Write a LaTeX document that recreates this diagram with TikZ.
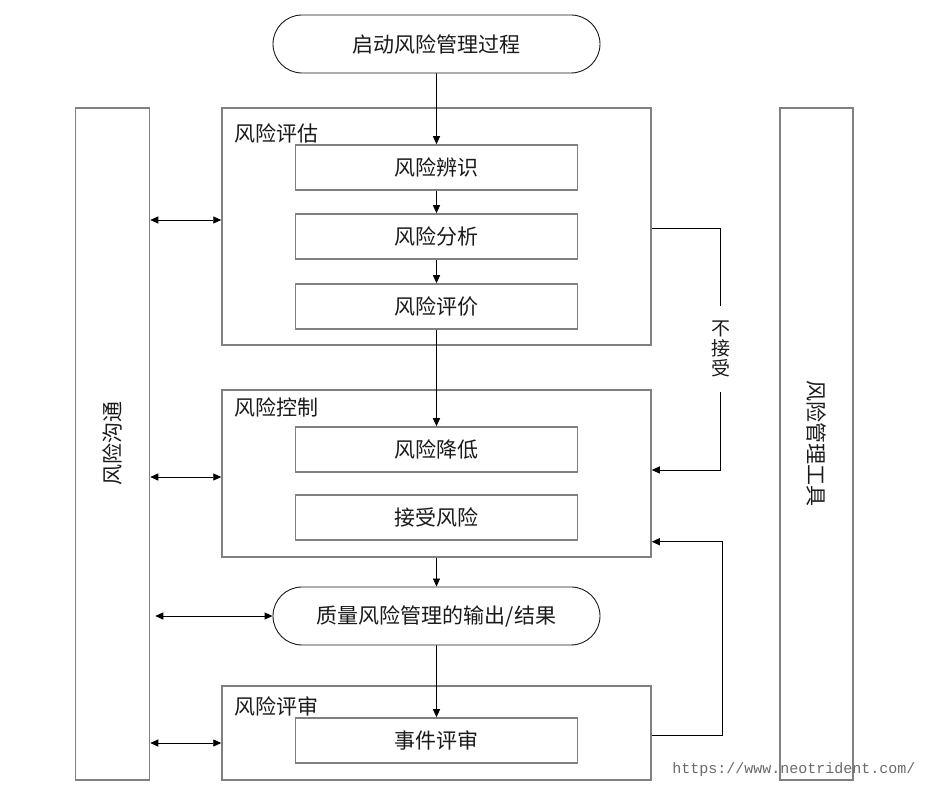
\documentclass[tikz,border=0pt]{standalone}
\usepackage{fontspec}
\setmainfont{Noto Sans CJK SC}
\setmonofont{Liberation Mono}
\usetikzlibrary{positioning,arrows.meta,shapes.misc,calc}
\definecolor{qrmGray}{HTML}{808080}
\definecolor{qrmInk}{HTML}{1A1A1A}
\definecolor{qrmWeb}{HTML}{6A6A6A}
\definecolor{qrmWhite}{HTML}{FFFFFF}
\newcommand{\qrmfont}{\fontsize{21}{24}\selectfont}
\tikzset{
  qrm-box/.style={
    draw=qrmGray, line width=1.5pt, fill=qrmWhite, text=qrmInk,
    font=\qrmfont, inner sep=0pt,
    minimum width=282pt, minimum height=45pt
  },
  qrm-group/.style={draw=qrmGray, line width=1.5pt, inner sep=0pt,
    minimum width=429pt},
  qrm-side/.style={draw=qrmGray, line width=1.5pt, inner sep=0pt,
    minimum width=74pt, minimum height=672pt},
  qrm-term/.style={draw=qrmInk, line width=0.9pt, rounded rectangle,
    fill=qrmWhite, text=qrmInk, font=\qrmfont, inner sep=0pt,
    minimum width=327pt, minimum height=58pt},
  qrm-title/.style={anchor=west, inner sep=0pt, font=\qrmfont, text=qrmInk},
  qrm-flow/.style={-{Triangle[length=8pt,width=7pt]}, line width=0.9pt,
    draw=black},
  qrm-both/.style={{Triangle[length=8pt,width=7pt]}-{Triangle[length=8pt,width=7pt]},
    line width=0.9pt, draw=black},
  qrm-label/.style={fill=qrmWhite, align=center, text=qrmInk,
    font=\fontsize{19}{20}\selectfont, inner ysep=15pt, inner xsep=2pt}
}

\begin{document}
\begin{tikzpicture}[x=1pt, y=1pt]
\useasboundingbox (0,0) rectangle (929,800);

% side columns
\node[qrm-side] (comm) at (112.5,356) {};
\node[rotate=90, font=\qrmfont, text=qrmInk] (commtxt) at (comm) {风险沟通};
\node[qrm-side, minimum width=73pt] (tools) at (816.5,356) {};
\node[rotate=-90, font=\qrmfont, text=qrmInk] (toolstxt) at (tools) {风险管理工具};

% groups
\node[qrm-group, minimum height=237pt] (g1) at (436.5,573.5) {};
\node[qrm-group, minimum height=167pt] (g2) at (436.5,326.5) {};
\node[qrm-group, minimum height=94pt] (g3) at (436.5,67) {};
\node[qrm-title] (t1) at ([xshift=13pt,yshift=-26pt]g1.north west) {风险评估};
\node[qrm-title] (t2) at ([xshift=13pt,yshift=-18pt]g2.north west) {风险控制};
\node[qrm-title] (t3) at ([xshift=13pt,yshift=-21pt]g3.north west) {风险评审};

% main chain
\node[qrm-term] (start) at (436.5,756) {启动风险管理过程};
\node[qrm-box, below=70.8pt of start] (s1) {风险辨识};
\node[qrm-box, below=22.5pt of s1] (s2) {风险分析};
\node[qrm-box, below=23.5pt of s2] (s3) {风险评价};
\node[qrm-box, below=96.5pt of s3] (s4) {风险降低};
\node[qrm-box, below=21.5pt of s4] (s5) {接受风险};
\node[qrm-term, below=45.8pt of s5] (out) {质量风险管理的输出/结果};
\node[qrm-box, below=71.8pt of out] (s6) {事件评审};

\node[font=\ttfamily\fontsize{15}{15}\selectfont, text=qrmWeb] (web)
  at (794,30) {https://www.neotrident.com/};

\draw[qrm-flow] (start) -- (s1);
\draw[qrm-flow] (s1) -- (s2);
\draw[qrm-flow] (s2) -- (s3);
\draw[qrm-flow] (s3) -- (s4);
\draw[qrm-flow] (g2.south) -- (out.north);
\draw[qrm-flow] (out) -- (s6);

\draw[qrm-both] ([yshift=6.5pt]comm.east |- g1.west) -- ([yshift=6.5pt]g1.west);
\draw[qrm-both] ([yshift=-3.5pt]comm.east |- g2.west) -- ([yshift=-3.5pt]g2.west);
\draw[qrm-both] ([xshift=5pt]comm.east |- out.west) -- (out.west);
\draw[qrm-both] ([yshift=-10pt]comm.east |- g3.west) -- ([yshift=-10pt]g3.west);

\draw[qrm-flow] ([yshift=-1.5pt]g1.east) -- ++(69,0)
  |- node[qrm-label,pos=0.25]{不\\接\\受} ([yshift=3.5pt]g2.east);
\draw[qrm-flow] ([yshift=-2pt]g3.east) -- ++(71,0)
  |- ([yshift=16pt]g2.south east);
\end{tikzpicture}
\end{document}
